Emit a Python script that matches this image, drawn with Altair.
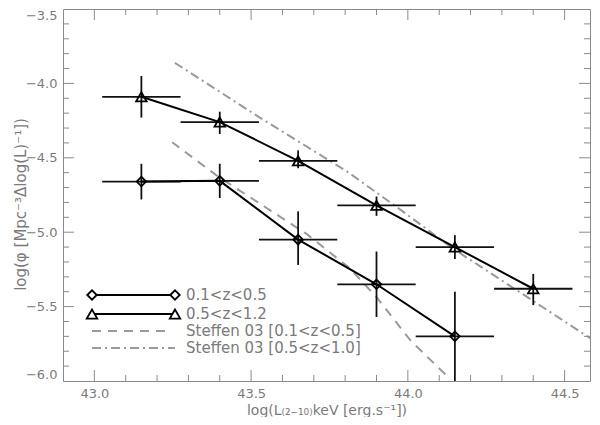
import altair as alt
import pandas as pd

# ---- data ----
lum = [43.15, 43.40, 43.65, 43.90, 44.15, 44.40]
bin_lo = [43.025, 43.275, 43.525, 43.775, 44.025, 44.275]
bin_hi = [43.275, 43.525, 43.775, 44.025, 44.275, 44.525]

# 0.1<z<0.5 (diamonds)
lo_x = lum[:5]
lo_xl = bin_lo[:5]
lo_xh = bin_hi[:5]
lo_y = [-4.66, -4.655, -5.05, -5.35, -5.70]
lo_yl = [-4.78, -4.77, -5.22, -5.57, -6.10]
lo_yh = [-4.54, -4.54, -4.86, -5.13, -5.40]

# 0.5<z<1.2 (triangles)
hi_x = lum
hi_xl = bin_lo
hi_xh = bin_hi
hi_y = [-4.09, -4.26, -4.52, -4.82, -5.10, -5.38]
hi_yl = [-4.23, -4.34, -4.57, -4.89, -5.18, -5.49]
hi_yh = [-3.95, -4.19, -4.45, -4.76, -5.02, -5.28]

# Steffen 03 curves
st1_x = [43.248, 43.394, 43.678, 43.815, 43.902, 44.007, 44.125]
st1_y = [-4.395, -4.625, -5.013, -5.243, -5.441, -5.724, -5.967]
st2_x = [43.257, 43.528, 43.806, 43.985, 44.144, 44.590]
st2_y = [-3.862, -4.230, -4.592, -4.862, -5.110, -5.724]

legend_labels = ["0.1<z<0.5", "0.5<z<1.2", "Steffen 03 [0.1<z<0.5]", "Steffen 03 [0.5<z<1.0]"]

x_major = [43.0, 43.5, 44.0, 44.5]
x_minor = [43.1, 43.2, 43.3, 43.4, 43.6, 43.7, 43.8, 43.9, 44.1, 44.2, 44.3, 44.4]
y_labels = [-6.0, -5.5, -5.0, -4.5, -4.0, -3.5]
y_major = [-5.5, -5.0, -4.5, -4.0]
y_minor = [-5.9, -5.8, -5.7, -5.6, -5.4, -5.3, -5.2, -5.1, -4.9, -4.8, -4.7, -4.6,
           -4.4, -4.3, -4.2, -4.1, -3.9, -3.8, -3.7, -3.6]

# ---- layout / style ----
W, H = 527, 372
GRAY_AX = "#8a8a8a"
GRAY_TX = "#7a7a7a"
GRAY_LN = "#9a9a9a"
FONT = "DejaVu Sans"

lo_df = pd.DataFrame({"x": lo_x, "xl": lo_xl, "xh": lo_xh, "y": lo_y, "yl": lo_yl, "yh": lo_yh})
hi_df = pd.DataFrame({"x": hi_x, "xl": hi_xl, "xh": hi_xh, "y": hi_y, "yl": hi_yl, "yh": hi_yh})
st1_df = pd.DataFrame({"x": st1_x, "y": st1_y})
st2_df = pd.DataFrame({"x": st2_x, "y": st2_y})

xscale = alt.Scale(domain=[42.9, 44.581], nice=False, zero=False)
yscale = alt.Scale(domain=[-6.0, -3.5], nice=False, zero=False)

xaxis = alt.Axis(values=x_major, format=".1f", grid=False, ticks=False, tickSize=0,
                 domain=False, labelPadding=6,
                 labelFont=FONT, labelFontSize=13, labelColor=GRAY_TX,
                 titleFont=FONT, titleFontSize=14, titleColor=GRAY_TX, titleFontWeight="normal",
                 title="log(L₍₂₋₁₀₎keV [erg.s⁻¹])", titleY=33, titleBaseline="alphabetic")
yaxis = alt.Axis(values=y_labels, format=".1f", grid=False, ticks=False, tickSize=0,
                 domain=False, labelPadding=6, labelFlush=True,
                 labelFont=FONT, labelFontSize=13, labelColor=GRAY_TX,
                 titleFont=FONT, titleFontSize=15, titleColor=GRAY_TX, titleFontWeight="normal",
                 title="log(φ [Mpc⁻³Δlog(L)⁻¹])", titleX=-43, titleY=195,
                 titleBaseline="middle", titleAngle=-90, titleAlign="center")


def X(f):
    return alt.X(f, type="quantitative", scale=xscale, axis=xaxis)


def Y(f):
    return alt.Y(f, type="quantitative", scale=yscale, axis=yaxis)


layers = []

# Steffen curves
layers.append(alt.Chart(st1_df).mark_line(color=GRAY_LN, strokeWidth=2, strokeDash=[9, 7], clip=True)
              .encode(x=X("x"), y=Y("y")))
layers.append(alt.Chart(st2_df).mark_line(color=GRAY_LN, strokeWidth=2, strokeDash=[9, 4, 2, 4], clip=True)
              .encode(x=X("x"), y=Y("y")))

for df, shape, size in [(lo_df, "diamond", 90), (hi_df, "triangle-up", 110)]:
    layers.append(alt.Chart(df).mark_rule(color="#111", strokeWidth=1.8, clip=True)
                  .encode(x=X("xl"), x2="xh", y=Y("y")))
    layers.append(alt.Chart(df).mark_rule(color="#111", strokeWidth=1.8, clip=True)
                  .encode(x=X("x"), y=Y("yl"), y2="yh"))
    layers.append(alt.Chart(df).mark_line(color="#000", strokeWidth=2, clip=True)
                  .encode(x=X("x"), y=Y("y")))
    layers.append(alt.Chart(df).mark_point(shape=shape, size=size, filled=False, color="#000",
                                           strokeWidth=1.8, opacity=1, clip=True)
                  .encode(x=X("x"), y=Y("y")))

# inward ticks on all four sides
for vals, ln in [(x_major, 11), (x_minor, 6)]:
    d = pd.DataFrame({"v": vals})
    layers.append(alt.Chart(d).mark_rule(color=GRAY_AX, strokeWidth=1)
                  .encode(x=X("v"), y=alt.value(H), y2=alt.value(H - ln)))
    layers.append(alt.Chart(d).mark_rule(color=GRAY_AX, strokeWidth=1)
                  .encode(x=X("v"), y=alt.value(0), y2=alt.value(ln)))
for vals, ln in [(y_major, 11), (y_minor, 6)]:
    d = pd.DataFrame({"v": vals})
    layers.append(alt.Chart(d).mark_rule(color=GRAY_AX, strokeWidth=1)
                  .encode(y=Y("v"), x=alt.value(0), x2=alt.value(ln)))
    layers.append(alt.Chart(d).mark_rule(color=GRAY_AX, strokeWidth=1)
                  .encode(y=Y("v"), x=alt.value(W), x2=alt.value(W - ln)))

# legend key (drawn inside the plot, bottom-left)
one = pd.DataFrame({"k": [0]})
rows_y = [286, 305, 322, 339]
lx0, lx1, tx = 29, 112, 123
for i in range(4):
    yy = rows_y[i]
    if i < 2:
        layers.append(alt.Chart(one).mark_rule(color="#000", strokeWidth=2)
                      .encode(x=alt.value(lx0), x2=alt.value(lx1), y=alt.value(yy)))
        shp = "diamond" if i == 0 else "triangle-up"
        sz = 90 if i == 0 else 110
        for px in (lx0, lx1):
            layers.append(alt.Chart(one).mark_point(shape=shp, size=sz, filled=True, fill="white",
                                                    stroke="#000", strokeWidth=1.8, opacity=1)
                          .encode(x=alt.value(px), y=alt.value(yy)))
    else:
        dash = [9, 7] if i == 2 else [9, 4, 2, 4]
        layers.append(alt.Chart(one).mark_rule(color=GRAY_LN, strokeWidth=2, strokeDash=dash)
                      .encode(x=alt.value(lx0), x2=alt.value(lx1 - 3 if i == 2 else lx1), y=alt.value(yy)))
    layers.append(alt.Chart(one).mark_text(align="left", baseline="middle", font=FONT,
                                           fontSize=15, color=GRAY_TX)
                  .encode(x=alt.value(tx), y=alt.value(yy), text=alt.value(legend_labels[i])))

chart = (
    alt.layer(*layers)
    .properties(width=W, height=H, background="white",
                padding={"left": 55, "top": 1, "right": 2, "bottom": 36},
                autosize=alt.AutoSizeParams(type="none"))
    .configure_view(stroke=GRAY_AX, strokeWidth=1)
)

chart.save("out.html", embed_options={"renderer": "svg", "actions": False})
